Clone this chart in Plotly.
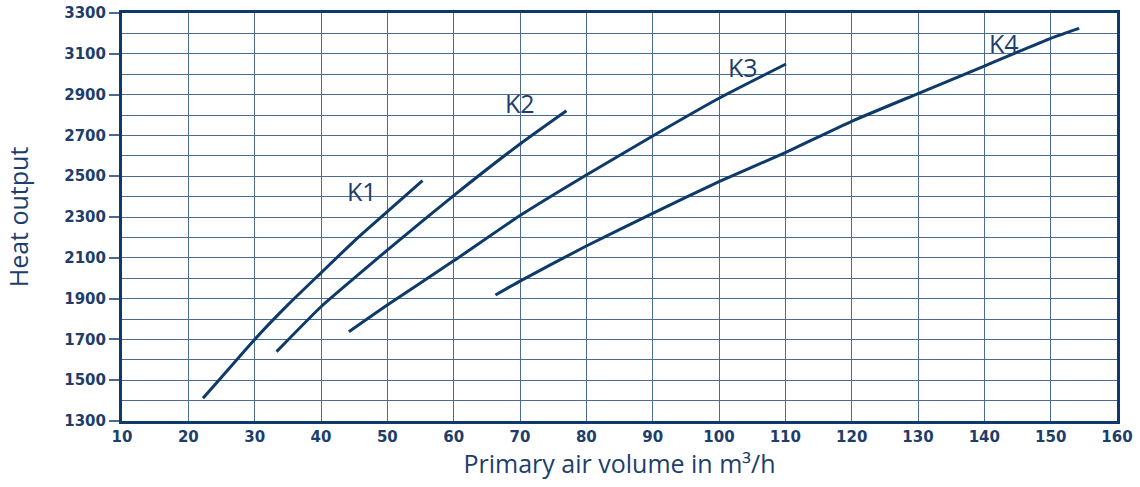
import plotly.graph_objects as go

# Data
k1_x = [22.2, 25, 30, 35, 40, 45, 50, 55.3]
k1_y = [1411, 1515, 1700, 1869, 2026, 2182, 2326, 2478]

k2_x = [33.3, 40, 45, 50, 60, 70, 77.0]
k2_y = [1640, 1860, 2000, 2138, 2405, 2658, 2821]

k3_x = [44.2, 50, 60, 70, 80, 90, 100, 110.1]
k3_y = [1738, 1869, 2085, 2307, 2506, 2697, 2882, 3050]

k4_x = [66.3, 70, 80, 90, 100, 110, 120, 130, 140, 150, 154.3]
k4_y = [1918, 1986, 2158, 2318, 2473, 2616, 2769, 2905, 3040, 3176, 3225]

series_names = ["K1", "K2", "K3", "K4"]
label_x = [46.2, 70.0, 103.6, 143.0]
label_y = [2428, 2859, 3035, 3153]

x_ticks = list(range(10, 161, 10))
y_ticks = list(range(1300, 3301, 200))

NAVY = "#0e3a6a"
TEXT = "#1d3e6b"
GRID = "#4a6a92"
TFONT = "Open Sans"
TICKFONT = "DejaVu Sans"

fig = go.Figure()
for name, xs, ys in zip(series_names, [k1_x, k2_x, k3_x, k4_x], [k1_y, k2_y, k3_y, k4_y]):
    fig.add_trace(go.Scatter(x=xs, y=ys, mode="lines", name=name,
                             line=dict(color=NAVY, width=3, shape="spline", smoothing=0.5),
                             showlegend=False, hoverinfo="x+y+name"))

for name, lx, ly in zip(series_names, label_x, label_y):
    fig.add_annotation(x=lx, y=ly, text=name, showarrow=False,
                       font=dict(family=TFONT, size=25, color=TEXT))

fig.update_xaxes(range=[10, 160], tickvals=x_ticks, ticks="", showgrid=True,
                 gridcolor=GRID, gridwidth=1.2, zeroline=False, automargin=False,
                 ticklabeloverflow="allow",
                 showline=True, linecolor=NAVY, linewidth=3, mirror=True,
                 tickfont=dict(family=TICKFONT, size=15, color=TEXT, weight="bold"),
                 title=dict(text="Primary air volume in m³/h", standoff=8,
                            font=dict(family=TFONT, size=25, color=TEXT)))
fig.update_yaxes(range=[1300, 3300], tickvals=y_ticks, ticks="outside", ticklen=10,
                 tickcolor=GRID, tickwidth=1.5, showgrid=True, gridcolor=GRID, gridwidth=1.2,
                 zeroline=False, showline=True, linecolor=NAVY, linewidth=3, mirror=True,
                 automargin=False, ticklabeloverflow="allow",
                 minor=dict(dtick=100, showgrid=True, gridcolor=GRID, gridwidth=1.2, ticks=""),
                 tickfont=dict(family=TICKFONT, size=15, color=TEXT, weight="bold"),
                 title=dict(text="Heat output", standoff=29,
                            font=dict(family=TFONT, size=25, color=TEXT)))

fig.update_layout(width=1140, height=487, plot_bgcolor="white", paper_bgcolor="white",
                  margin=dict(l=122, r=23, t=13, b=66, autoexpand=False))

# remove the page's default 8px body margin so the figure fills the window
fig.write_html("out.html", config={"displayModeBar": False},
               post_script="document.body.style.margin='0';")
